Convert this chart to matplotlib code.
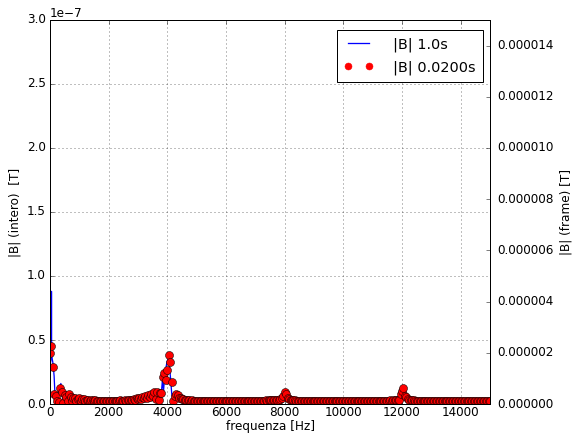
import numpy as np
import matplotlib
matplotlib.use('Agg')
import matplotlib.pyplot as plt
from matplotlib.ticker import FormatStrFormatter

# spettro del segnale intero (1.0 s), |B| in unita' di 1e-7 T
f_intero = [0, 30, 45, 50, 55, 70, 100, 140, 180, 230, 300, 370, 440, 520, 600, 700, 850, 1000,
            1300, 1700, 2200, 2700, 3100, 3400, 3600, 3700, 3780, 3830, 3870, 3910, 3950,
            3990, 4030, 4070, 4110, 4150, 4190, 4250, 4350, 4500, 4800, 5500, 6500, 7500,
            7800, 7900, 7960, 8000, 8040, 8100, 8200, 8600, 9500, 10500, 11500, 11800,
            11920, 11970, 12010, 12050, 12100, 12200, 12500, 13500, 14500, 15000]
b_intero = [0.30, 0.34, 0.40, 0.88, 0.40, 0.36, 0.32, 0.22, 0.02, 0.05, 0.10, 0.16, 0.04, 0.08, 0.06,
            0.05, 0.04, 0.03, 0.025, 0.02, 0.02, 0.025, 0.03, 0.04, 0.05, 0.06, 0.04, 0.18,
            0.10, 0.22, 0.28, 0.33, 0.35, 0.30, 0.20, 0.08, 0.02, 0.06, 0.04, 0.03, 0.02,
            0.015, 0.015, 0.02, 0.03, 0.04, 0.06, 0.07, 0.06, 0.04, 0.02, 0.015, 0.012,
            0.012, 0.015, 0.025, 0.05, 0.08, 0.10, 0.09, 0.06, 0.03, 0.015, 0.012, 0.012,
            0.012]

# spettro di un frame (0.02 s -> passo 50 Hz), |B| in unita' di 1e-6 T
f_frame = np.arange(0, 15001, 50)
b_frame = [
    # 0 - 950 Hz
    2.00, 2.25, 1.45, 0.40, 0.33, 0.12, 0.09, 0.61, 0.46, 0.05, 0.35, 0.29, 0.12, 0.39, 0.29, 0.10, 0.25, 0.23, 0.12, 0.20,
    # 1000 - 1950 Hz
    0.22, 0.12, 0.20, 0.18, 0.13, 0.17, 0.16, 0.12, 0.15, 0.14, 0.12, 0.14, 0.13, 0.11, 0.13, 0.12, 0.11, 0.12, 0.11, 0.12,
    # 2000 - 2950 Hz
    0.11, 0.12, 0.11, 0.13, 0.12, 0.11, 0.13, 0.12, 0.14, 0.12, 0.13, 0.15, 0.13, 0.16, 0.14, 0.17, 0.15, 0.19, 0.16, 0.22,
    # 3000 - 3950 Hz
    0.18, 0.25, 0.20, 0.28, 0.22, 0.30, 0.24, 0.35, 0.27, 0.40, 0.30, 0.48, 0.20, 0.45, 0.15, 0.42, 0.42, 1.07, 1.22, 0.94,
    # 4000 - 4950 Hz
    1.33, 1.92, 1.65, 0.85, 0.13, 0.30, 0.40, 0.35, 0.22, 0.25, 0.18, 0.20, 0.15, 0.17, 0.14, 0.15, 0.13, 0.14, 0.12, 0.13,
    # 5000 - 5950 Hz
    0.12, 0.13, 0.12, 0.12, 0.11, 0.12, 0.12, 0.11, 0.12, 0.11, 0.11, 0.12, 0.11, 0.11, 0.12, 0.11, 0.11, 0.11, 0.12, 0.11,
    # 6000 - 6950 Hz
    0.11, 0.11, 0.12, 0.11, 0.11, 0.11, 0.12, 0.11, 0.11, 0.12, 0.11, 0.12, 0.11, 0.12, 0.12, 0.11, 0.12, 0.12, 0.13, 0.12,
    # 7000 - 7950 Hz
    0.12, 0.13, 0.12, 0.13, 0.13, 0.12, 0.13, 0.14, 0.13, 0.14, 0.14, 0.15, 0.14, 0.16, 0.15, 0.17, 0.16, 0.19, 0.22, 0.31,
    # 8000 - 8950 Hz
    0.48, 0.39, 0.25, 0.18, 0.16, 0.15, 0.14, 0.14, 0.13, 0.13, 0.12, 0.12, 0.12, 0.11, 0.11, 0.11, 0.11, 0.10, 0.11, 0.10,
    # 9000 - 9950 Hz
    0.10, 0.10, 0.10, 0.10, 0.10, 0.10, 0.10, 0.10, 0.10, 0.10, 0.10, 0.10, 0.10, 0.10, 0.10, 0.10, 0.10, 0.10, 0.10, 0.10,
    # 10000 - 10950 Hz
    0.10, 0.10, 0.10, 0.10, 0.10, 0.10, 0.10, 0.11, 0.10, 0.11, 0.10, 0.11, 0.11, 0.10, 0.11, 0.11, 0.11, 0.11, 0.12, 0.11,
    # 11000 - 11950 Hz
    0.11, 0.12, 0.11, 0.12, 0.12, 0.11, 0.12, 0.12, 0.13, 0.12, 0.13, 0.13, 0.14, 0.13, 0.15, 0.14, 0.16, 0.17, 0.16, 0.39,
    # 12000 - 12950 Hz
    0.52, 0.64, 0.31, 0.28, 0.18, 0.17, 0.15, 0.15, 0.14, 0.13, 0.13, 0.12, 0.12, 0.12, 0.11, 0.12, 0.11, 0.11, 0.11, 0.11,
    # 13000 - 13950 Hz
    0.11, 0.11, 0.11, 0.11, 0.11, 0.11, 0.11, 0.11, 0.11, 0.11, 0.11, 0.11, 0.11, 0.11, 0.11, 0.11, 0.11, 0.11, 0.11, 0.11,
    # 14000 - 15000 Hz
    0.11, 0.11, 0.11, 0.11, 0.11, 0.11, 0.11, 0.11, 0.11, 0.11, 0.11, 0.11, 0.11, 0.11, 0.11, 0.11, 0.11, 0.11, 0.11, 0.11, 0.11,
]

plt.style.use('classic')
plt.rcParams['font.size'] = 12

fig = plt.figure(figsize=(573 / 72.0, 434 / 72.0), dpi=72)
ax1 = fig.add_axes([50 / 573.0, 1 - 404 / 434.0, 440 / 573.0, 384 / 434.0])
l1, = ax1.plot(f_intero, np.array(b_intero) * 1e-7, '-', color='#0000ff', lw=1.3, label='|B| 1.0s')
ax1.set_xlim(0, 15000)
ax1.set_ylim(0, 3e-7)
ax1.set_xlabel('frequenza [Hz]', labelpad=1)
ax1.set_ylabel('|B| (intero)  [T]', labelpad=6)
ax1.tick_params(axis='x', pad=2)
ax1.grid(True)

ax2 = ax1.twinx()
l2, = ax2.plot(f_frame, np.array(b_frame) * 1e-6, 'o', color='r', mec='k', mew=0.5,
               ms=8, label='|B| 0.0200s')
ax2.set_xlim(0, 15000)
ax2.set_ylim(0, 1.5e-5)
ax2.yaxis.set_major_formatter(FormatStrFormatter('%.6f'))
ax2.tick_params(axis='y', pad=7)
ax2.set_ylabel('|B| (frame) [T]', labelpad=6)

leg = ax2.legend([l1, l2], ['|B| 1.0s', '|B| 0.0200s'], loc='upper right', numpoints=2,
                 bbox_to_anchor=(0.984, 0.974), borderaxespad=0, handletextpad=1.4,
                 labelspacing=0.6, borderpad=0.5)
leg.legend_handles[1].set_markeredgecolor('r')
leg.legend_handles[1].set_markersize(7)

fig.savefig('out.png', dpi=72)
